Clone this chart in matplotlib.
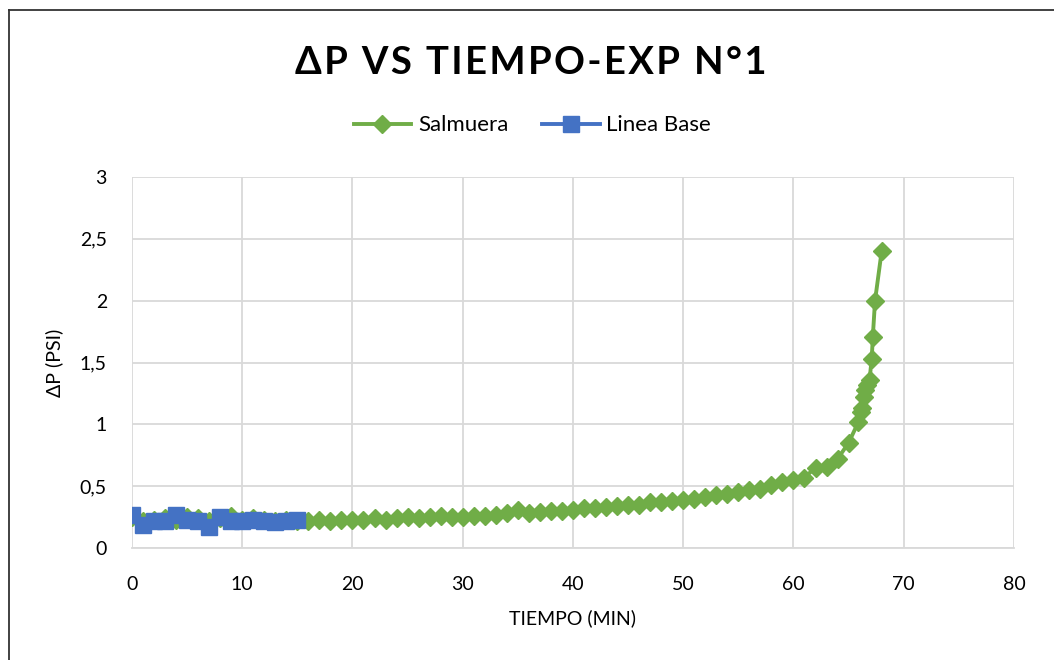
import matplotlib.pyplot as plt
from matplotlib.lines import Line2D
from matplotlib.ticker import FuncFormatter

# Salmuera series (time in min, delta P in psi)
salmuera_t = list(range(0, 66)) + [65.9, 66.1, 66.2, 66.4, 66.5, 66.7, 66.9,
                                   67.1, 67.2, 67.4, 68.0]
salmuera_dp = [0.25, 0.22, 0.23, 0.24, 0.23, 0.25, 0.24, 0.22, 0.24, 0.26,
               0.23, 0.24, 0.23, 0.22, 0.23, 0.22, 0.22, 0.23, 0.22, 0.23,
               0.23, 0.23, 0.24, 0.23, 0.24, 0.25, 0.24, 0.25, 0.26, 0.25,
               0.25, 0.26, 0.26, 0.27, 0.28, 0.31, 0.28, 0.29, 0.30, 0.30,
               0.31, 0.32, 0.32, 0.33, 0.34, 0.35, 0.35, 0.37, 0.37, 0.38,
               0.39, 0.40, 0.41, 0.43, 0.44, 0.45, 0.47, 0.48, 0.51, 0.53,
               0.55, 0.57, 0.65, 0.655, 0.72, 0.85,
               1.02, 1.10, 1.13, 1.22, 1.28, 1.32, 1.36, 1.53, 1.71, 2.00, 2.40]

# Linea Base series
base_t = list(range(0, 16))
base_dp = [0.27, 0.19, 0.22, 0.22, 0.27, 0.23, 0.22, 0.17, 0.25, 0.22,
           0.22, 0.23, 0.22, 0.21, 0.22, 0.23]

title = 'ΔP VS TIEMPO-EXP N°1'

green = '#70AD47'
blue = '#4472C4'
grid_c = '#D9D9D9'

plt.rcParams['font.family'] = ['Lato', 'DejaVu Sans']

fig = plt.figure(figsize=(10.54, 6.6), dpi=100)
ax = fig.add_axes([0.1252, 0.1697, 0.8368, 0.5621])

ax.plot(salmuera_t, salmuera_dp, color=green, lw=2.8, marker='D', ms=9,
        label='Salmuera', zorder=3)
ax.plot(base_t, base_dp, color=blue, lw=2.8, marker='s', ms=11,
        label='Linea Base', zorder=4)

ax.set_xlim(0, 80)
ax.set_ylim(0, 3)
ax.set_xticks(range(0, 81, 10))
ax.set_yticks([0, 0.5, 1, 1.5, 2, 2.5, 3])
ax.yaxis.set_major_formatter(FuncFormatter(lambda v, p: ('%g' % v).replace('.', ',')))
ax.grid(True, color=grid_c, lw=1.3)
ax.set_axisbelow(True)
for s in ['top', 'right', 'left']:
    ax.spines[s].set_visible(False)
ax.spines['bottom'].set_color(grid_c)
ax.spines['bottom'].set_linewidth(1.3)
ax.tick_params(length=0, labelsize=14, colors='black')
ax.tick_params(axis='x', pad=20)
ax.tick_params(axis='y', pad=18)

ax.set_xlabel('TIEMPO (MIN)', fontsize=14, labelpad=12)
ax.set_ylabel('ΔP (PSI)', fontsize=14, labelpad=12)

# letter-spaced title (hair spaces between characters)
spaced = '\u200a'.join(title)
fig.text(0.504, 0.905, spaced, ha='center', va='center',
         fontsize=27.5, fontweight='bold', family=['Lato', 'DejaVu Sans'])

fig.legend(loc='center', bbox_to_anchor=(0.505, 0.81), ncol=2, frameon=False,
           fontsize=16, handlelength=2.6, columnspacing=1.5, handletextpad=0.3)

# chart area border (left and top visible)
fig.add_artist(Line2D([9 / 1054, 9 / 1054], [0, 1 - 10 / 660],
                      transform=fig.transFigure, color='#333333', lw=1.3))
fig.add_artist(Line2D([9 / 1054, 1], [1 - 10 / 660, 1 - 10 / 660],
                      transform=fig.transFigure, color='#333333', lw=1.3))

fig.savefig('out.png', dpi=100)
